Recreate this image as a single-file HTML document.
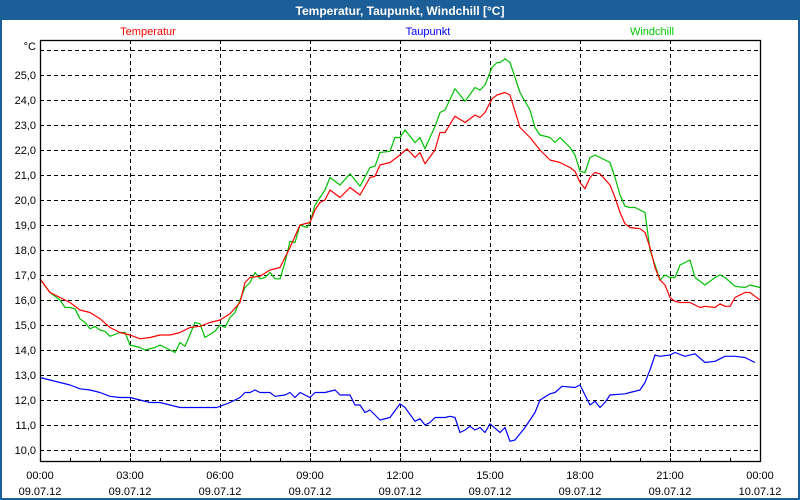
<!DOCTYPE html>
<html><head><meta charset="utf-8"><style>
html,body{margin:0;padding:0;background:#fff;}
#wrap{position:relative;width:800px;height:500px;overflow:hidden;font-family:"Liberation Sans",sans-serif;}
</style></head><body>
<div id="wrap">
<svg id="chart" width="800" height="500" xmlns="http://www.w3.org/2000/svg">
<rect x="0" y="0" width="800" height="500" fill="#ffffff"/>
<rect x="0" y="0" width="800" height="20" fill="#1c5e97"/>
<rect x="1" y="1" width="798" height="498" fill="none" stroke="#1c5e97" stroke-width="2"/>
<text x="400" y="15" text-anchor="middle" font-size="12" font-weight="bold" fill="#ffffff" font-family="Liberation Sans, sans-serif">Temperatur, Taupunkt, Windchill [°C]</text>
<text x="148" y="35" text-anchor="middle" font-size="11" fill="#ff0000" font-family="Liberation Sans, sans-serif">Temperatur</text>
<text x="428" y="35" text-anchor="middle" font-size="11" fill="#0000ff" font-family="Liberation Sans, sans-serif">Taupunkt</text>
<text x="652" y="35" text-anchor="middle" font-size="11" fill="#00cc00" font-family="Liberation Sans, sans-serif">Windchill</text>
<text x="36" y="50" text-anchor="end" font-size="11" fill="#000" font-family="Liberation Sans, sans-serif">°C</text>
<g id="grid"></g><g id="series"></g><g id="axes"></g>
</svg>
</div>
<script>
const yTicks = [10,11,12,13,14,15,16,17,18,19,20,21,22,23,24,25,26];
const xTickMinutes = [0,180,360,540,720,900,1080,1260,1440];
const xTimeLabels = ["00:00","03:00","06:00","09:00","12:00","15:00","18:00","21:00","00:00"];
const xDateLabels = ["09.07.12","09.07.12","09.07.12","09.07.12","09.07.12","09.07.12","09.07.12","09.07.12","10.07.12"];

const tempMinutes = [0,20,40,60,80,100,120,140,160,180,200,220,240,260,280,300,320,340,360,380,400,410,420,440,460,480,500,520,540,550,560,570,580,600,620,640,660,670,680,700,720,734,750,760,770,790,800,810,830,850,870,880,890,904,914,930,940,960,980,1000,1020,1040,1060,1070,1080,1090,1100,1110,1120,1140,1150,1160,1170,1180,1200,1210,1220,1230,1240,1250,1260,1270,1280,1300,1310,1320,1330,1350,1360,1370,1380,1390,1410,1420,1430,1440];
const tempValues = [16.84,16.3,16.1,15.9,15.6,15.5,15.25,14.9,14.7,14.6,14.45,14.5,14.6,14.6,14.7,14.9,14.95,15.1,15.2,15.45,15.9,16.7,16.9,16.95,17.2,17.3,18.1,19.0,19.1,19.6,19.9,20.0,20.4,20.1,20.5,20.2,20.9,20.95,21.4,21.5,21.8,22.05,21.7,21.9,21.45,22.0,22.7,22.7,23.35,23.1,23.4,23.3,23.5,24.05,24.2,24.3,24.2,22.9,22.5,22.0,21.6,21.5,21.3,21.15,20.7,20.45,20.9,21.1,21.05,20.6,20.1,19.5,19.05,18.9,18.85,18.7,18.1,17.3,16.8,16.6,16.1,15.95,15.9,15.9,15.8,15.7,15.75,15.7,15.85,15.75,15.75,16.1,16.3,16.3,16.15,16.0];

const windMinutes = [0,20,40,50,60,70,80,90,100,110,120,130,140,160,170,180,200,210,230,240,260,270,280,290,310,320,330,350,360,370,380,390,410,420,430,440,450,460,470,480,490,500,510,520,534,540,550,560,570,580,600,620,640,660,670,680,700,710,720,730,750,760,770,790,800,810,830,850,870,880,890,904,914,920,930,940,960,980,990,1000,1020,1030,1040,1050,1060,1070,1080,1090,1100,1110,1120,1140,1150,1160,1170,1180,1190,1200,1210,1220,1230,1240,1250,1260,1270,1280,1300,1310,1330,1350,1360,1370,1390,1410,1420,1440];
const windValues = [16.84,16.3,16.0,15.7,15.7,15.65,15.25,15.1,14.85,14.95,14.8,14.75,14.55,14.7,14.7,14.2,14.1,14.0,14.1,14.2,14.0,13.9,14.3,14.15,15.1,15.05,14.5,14.75,15.0,14.9,15.3,15.5,16.5,16.7,17.1,16.85,16.9,17.1,16.85,16.85,17.5,18.35,18.3,19.0,18.9,19.1,19.8,20.1,20.4,20.9,20.6,21.05,20.55,21.3,21.35,21.9,21.95,22.5,22.5,22.8,22.3,22.5,22.05,22.95,23.5,23.6,24.45,23.95,24.5,24.4,24.6,25.3,25.5,25.5,25.65,25.5,24.3,23.6,22.9,22.6,22.5,22.3,22.5,22.3,22.1,21.8,21.15,21.1,21.7,21.8,21.7,21.5,20.9,20.2,19.75,19.7,19.7,19.6,19.5,18.0,17.4,16.8,17.0,16.9,16.9,17.4,17.6,16.9,16.6,16.9,17.0,16.9,16.55,16.5,16.6,16.5];

const dewMinutes = [0,20,40,60,80,100,120,140,160,180,200,220,240,260,280,300,320,340,354,360,380,400,410,420,430,440,460,470,490,500,510,520,540,550,570,590,600,620,630,640,650,660,680,700,720,730,750,760,770,780,790,810,820,830,840,850,860,870,880,890,900,920,930,940,950,970,990,1000,1020,1030,1044,1070,1080,1100,1110,1120,1130,1140,1170,1180,1200,1210,1220,1230,1240,1260,1270,1290,1310,1330,1350,1370,1390,1410,1430];
const dewValues = [12.9,12.8,12.7,12.6,12.45,12.4,12.3,12.15,12.1,12.1,12.0,11.9,11.9,11.8,11.7,11.7,11.7,11.7,11.7,11.75,11.9,12.1,12.3,12.3,12.4,12.3,12.3,12.15,12.2,12.3,12.1,12.3,12.1,12.3,12.3,12.4,12.2,12.2,11.8,11.8,11.5,11.6,11.2,11.3,11.85,11.7,11.15,11.25,11.0,11.1,11.3,11.3,11.35,11.3,10.7,10.8,10.95,10.8,10.9,10.7,11.05,10.7,10.9,10.35,10.4,10.9,11.5,12.0,12.25,12.3,12.55,12.5,12.6,11.8,11.95,11.7,11.9,12.2,12.25,12.3,12.4,12.7,13.2,13.8,13.75,13.8,13.9,13.75,13.85,13.5,13.55,13.75,13.75,13.7,13.5];

const NS = "http://www.w3.org/2000/svg";
const X0 = 40, X1 = 760, Y0 = 40, Y1 = 461;
function xScale(m){ return X0 + m * (X1 - X0) / 1440; }
function yScale(v){ return 50 + (26 - v) * 25; }
function mk(tag, attrs, parent){ const e = document.createElementNS(NS, tag); for (const k in attrs) e.setAttribute(k, attrs[k]); parent.appendChild(e); return e; }

const grid = document.getElementById('grid');
const axes = document.getElementById('axes');
const series = document.getElementById('series');

yTicks.forEach(v => {
  const y = yScale(v) + 0.5;
  const l = mk('line', {x1: X0, x2: X1, y1: y, y2: y, stroke: '#000', 'stroke-width': 1, 'stroke-dasharray': '4,3'}, grid);
  
  
  if (v <= 25) {
    const t = mk('text', {x: 36, y: yScale(v) + 4, 'text-anchor': 'end', 'font-size': 11, fill: '#000', 'font-family': 'Liberation Sans, sans-serif'}, axes);
    t.textContent = v.toFixed(1).replace('.', ',');
    
    
  }
});
xTickMinutes.forEach((m, i) => {
  const x = xScale(m) + 0.5;
  if (i > 0 && i < xTickMinutes.length - 1) {
    const l = mk('line', {x1: x, x2: x, y1: Y0, y2: Y1, stroke: '#000', 'stroke-width': 1, 'stroke-dasharray': '4,3'}, grid);
    
    
  }
  const t1 = mk('text', {x: xScale(m), y: 479, 'text-anchor': 'middle', 'font-size': 11, fill: '#000', 'font-family': 'Liberation Sans, sans-serif'}, axes);
  t1.textContent = xTimeLabels[i];
  
  
  const t2 = mk('text', {x: xScale(m), y: 495, 'text-anchor': 'middle', 'font-size': 11, fill: '#000', 'font-family': 'Liberation Sans, sans-serif'}, axes);
  t2.textContent = xDateLabels[i];
  
  
});
for (let h = 0; h <= 24; h++) {
  const x = xScale(h * 60) + 0.5;
  const tk = mk('line', {x1: x, x2: x, y1: Y1 - 3, y2: Y1 + 1, stroke: '#000', 'stroke-width': 1}, axes);
  
  
}
const frame = mk('rect', {x: X0 + 0.5, y: Y0 + 0.5, width: X1 - X0, height: Y1 - Y0, fill: 'none', stroke: '#000', 'stroke-width': 1.3}, axes);



function drawLine(ms, vs, color, name){
  const n = Math.min(ms.length, vs.length);
  let d = '';
  for (let i = 0; i < n; i++) d += (i ? 'L' : 'M') + xScale(ms[i]).toFixed(1) + ',' + yScale(vs[i]).toFixed(1);
  const p = mk('path', {d: d, fill: 'none', stroke: color, 'stroke-width': 1.2, 'stroke-linejoin': 'round'}, series);
  
  
}
drawLine(dewMinutes, dewValues, '#0000ff', 'taupunkt-line');
drawLine(windMinutes, windValues, '#00c000', 'windchill-line');
drawLine(tempMinutes, tempValues, '#ff0000', 'temperatur-line');
</script>
</body></html>
